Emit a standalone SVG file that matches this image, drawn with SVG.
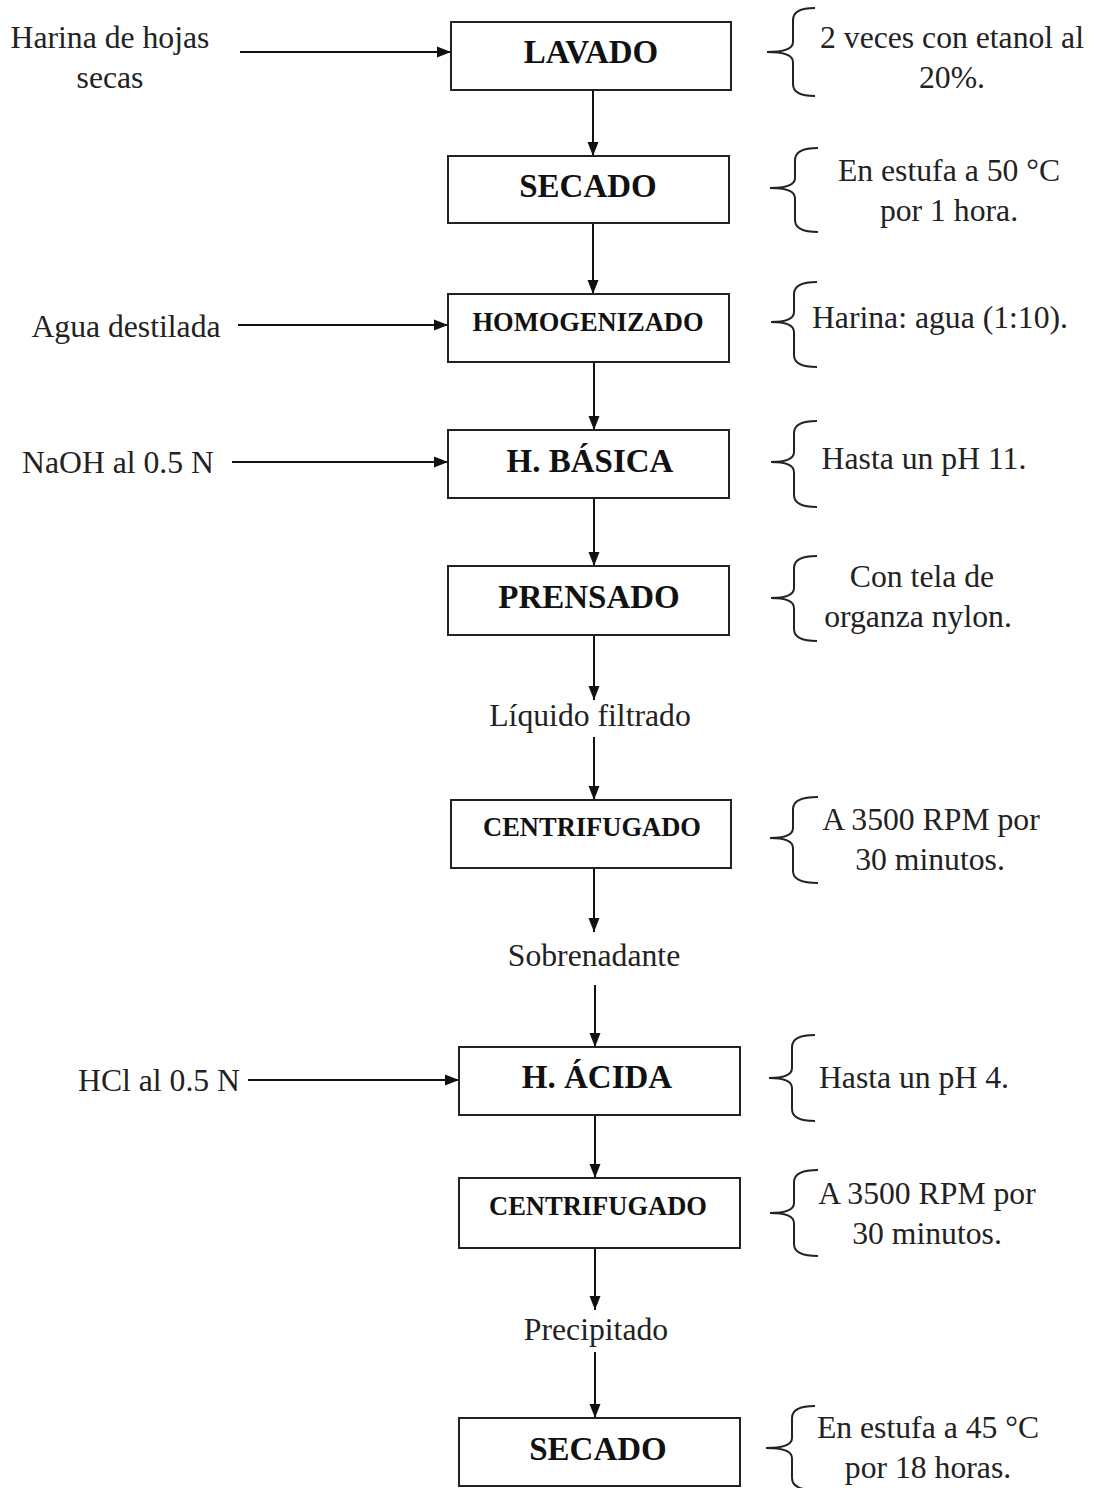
<svg xmlns="http://www.w3.org/2000/svg" width="1095" height="1488" viewBox="0 0 1095 1488">
<style>
.box{fill:#fff;stroke:#222;stroke-width:2}
.lbl{font-family:"Liberation Serif","Times New Roman",serif;font-weight:bold;font-size:33px;fill:#111;text-anchor:middle}
.lbs{font-size:26.5px}
.t{font-family:"Liberation Serif","Times New Roman",serif;font-size:31.7px;fill:#222;text-anchor:middle}
.ar{stroke:#111;stroke-width:2;fill:none;marker-end:url(#ah)}
.br{stroke:#222;stroke-width:2;fill:none}
</style>
<defs>
<marker id="ah" markerUnits="userSpaceOnUse" markerWidth="16" markerHeight="12" refX="14" refY="6" orient="auto">
<path d="M0,0.5 L14,6 L0,11.5 Z" fill="#111"/>
</marker>
</defs>
<rect width="1095" height="1488" fill="#fff"/>
<g id="connectors">
<line class="ar" x1="240" y1="52" x2="451" y2="52"/>
<line class="ar" x1="593" y1="90" x2="593" y2="156"/>
<line class="ar" x1="593" y1="223" x2="593" y2="294"/>
<line class="ar" x1="238" y1="325" x2="448" y2="325"/>
<line class="ar" x1="594" y1="362" x2="594" y2="430"/>
<line class="ar" x1="232" y1="462" x2="448" y2="462"/>
<line class="ar" x1="594" y1="498" x2="594" y2="566"/>
<line class="ar" x1="594" y1="635" x2="594" y2="700"/>
<line class="ar" x1="594" y1="737" x2="594" y2="800"/>
<line class="ar" x1="594" y1="868" x2="594" y2="932"/>
<line class="ar" x1="595" y1="985" x2="595" y2="1047"/>
<line class="ar" x1="248" y1="1080" x2="459" y2="1080"/>
<line class="ar" x1="595" y1="1115" x2="595" y2="1178"/>
<line class="ar" x1="595" y1="1248" x2="595" y2="1310"/>
<line class="ar" x1="595" y1="1352" x2="595" y2="1418"/>
</g>
<g id="inputs">
<text class="t" x="110" y="48">Harina de hojas</text>
<text class="t" x="110" y="88">secas</text>
<text class="t" x="126" y="337">Agua destilada</text>
<text class="t" x="118" y="473">NaOH al 0.5 N</text>
<text class="t" x="159" y="1091">HCl al 0.5 N</text>
</g>
<g id="intermediates">
<text class="t" x="590" y="726">Líquido filtrado</text>
<text class="t" x="594" y="966">Sobrenadante</text>
<text class="t" x="596" y="1340">Precipitado</text>
</g>
<g id="n1"><rect class="box" x="451" y="22" width="280" height="68"/><text class="lbl" x="591" y="63">LAVADO</text></g>
<g id="n2"><rect class="box" x="448" y="156" width="281" height="67"/><text class="lbl" x="588" y="197">SECADO</text></g>
<g id="n3"><rect class="box" x="448" y="294" width="281" height="68"/><text class="lbl lbs" x="588" y="331">HOMOGENIZADO</text></g>
<g id="n4"><rect class="box" x="448" y="430" width="281" height="68"/><text class="lbl" x="590" y="472">H. BÁSICA</text></g>
<g id="n5"><rect class="box" x="448" y="566" width="281" height="69"/><text class="lbl" x="589" y="608">PRENSADO</text></g>
<g id="n6"><rect class="box" x="451" y="800" width="280" height="68"/><text class="lbl lbs" x="592" y="836">CENTRIFUGADO</text></g>
<g id="n7"><rect class="box" x="459" y="1047" width="281" height="68"/><text class="lbl" x="597" y="1088">H. ÁCIDA</text></g>
<g id="n8"><rect class="box" x="459" y="1178" width="281" height="70"/><text class="lbl lbs" x="598" y="1215">CENTRIFUGADO</text></g>
<g id="n9"><rect class="box" x="459" y="1418" width="281" height="68"/><text class="lbl" x="598" y="1460">SECADO</text></g>
<g id="notes">
<path class="br" d="M815,8 Q793,8 793,20 L793,42 Q793,52 767,52 Q793,52 793,62 L793,84 Q793,96 815,96"/>
<text class="t" x="952" y="48">2 veces con etanol al</text>
<text class="t" x="952" y="88">20%.</text>
<path class="br" d="M818,148 Q795,148 795,160 L795,178 Q795,188 770,188 Q795,188 795,198 L795,220 Q795,232 818,232"/>
<text class="t" x="949" y="181">En estufa a 50 °C</text>
<text class="t" x="949" y="221">por 1 hora.</text>
<path class="br" d="M817,282 Q794,282 794,294 L794,312 Q794,322 771,322 Q794,322 794,332 L794,355 Q794,367 817,367"/>
<text class="t" x="940" y="328">Harina: agua (1:10).</text>
<path class="br" d="M817,421 Q794,421 794,433 L794,452 Q794,462 771,462 Q794,462 794,472 L794,495 Q794,507 817,507"/>
<text class="t" x="924" y="469">Hasta un pH 11.</text>
<path class="br" d="M817,556 Q794,556 794,568 L794,588 Q794,598 771,598 Q794,598 794,608 L794,629 Q794,641 817,641"/>
<text class="t" x="922" y="587">Con tela de</text>
<text class="t" x="918" y="627">organza nylon.</text>
<path class="br" d="M818,797 Q793,797 793,809 L793,828 Q793,838 770,838 Q793,838 793,848 L793,871 Q793,883 818,883"/>
<text class="t" x="931" y="830">A 3500 RPM por</text>
<text class="t" x="930" y="870">30 minutos.</text>
<path class="br" d="M815,1035 Q792,1035 792,1047 L792,1068 Q792,1078 769,1078 Q792,1078 792,1088 L792,1109 Q792,1121 815,1121"/>
<text class="t" x="914" y="1088">Hasta un pH 4.</text>
<path class="br" d="M818,1170 Q794,1170 794,1182 L794,1203 Q794,1213 770,1213 Q794,1213 794,1223 L794,1244 Q794,1256 818,1256"/>
<text class="t" x="927" y="1204">A 3500 RPM por</text>
<text class="t" x="927" y="1244">30 minutos.</text>
<path class="br" d="M815,1406 Q792,1406 792,1418 L792,1438 Q792,1448 766,1448 Q792,1448 792,1458 L792,1478 Q792,1490 815,1490"/>
<text class="t" x="928" y="1438">En estufa a 45 °C</text>
<text class="t" x="928" y="1478">por 18 horas.</text>
</g>
</svg>
